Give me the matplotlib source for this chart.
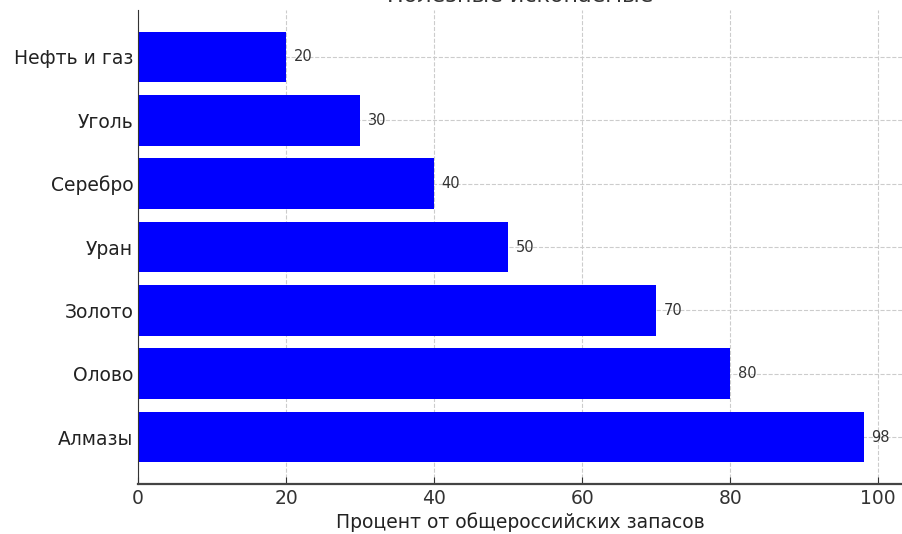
import numpy as np
import matplotlib.pyplot as plt

minerals = ['Алмазы', 'Олово', 'Золото', 'Уран', 'Серебро', 'Уголь', 'Нефть и газ']
shares = [98, 80, 70, 50, 40, 30, 20]

fig = plt.figure(figsize=(9.02, 5.34), dpi=100)
ax = fig.add_axes([138 / 902, 50 / 534, 764 / 902, 474 / 534])

y = np.arange(len(minerals))
ax.barh(y, shares, height=0.8, color='blue', zorder=2)

for yi, v in zip(y, shares):
    ax.text(v + 1, yi, str(v), va='center', ha='left', fontsize=10.5, color='#333333')

ax.set_yticks(y)
ax.set_yticklabels(minerals, fontsize=13.5, color='#222222')
ax.set_xlim(0, 103.2)
ax.set_ylim(-0.74, len(minerals) - 0.26)
ax.set_xticks([0, 20, 40, 60, 80, 100])
ax.tick_params(axis='x', labelsize=13.5, colors='#333333', direction='in', length=5)
ax.tick_params(axis='y', direction='in', length=4, colors='#222222')
ax.set_xlabel('Процент от общероссийских запасов', fontsize=13.5, color='#222222',
              labelpad=3)
# title sits mostly above the canvas, as in the original
ax.set_title('Полезные ископаемые', fontsize=16, color='#333333', pad=5.5)

ax.grid(True, linestyle='--', color='#cccccc', linewidth=0.8, zorder=0)
ax.set_axisbelow(True)
for s in ['top', 'right']:
    ax.spines[s].set_visible(False)
ax.spines['bottom'].set_linewidth(1.6)
ax.spines['bottom'].set_color('#444444')
ax.spines['left'].set_color('#333333')

fig.savefig('out.png', dpi=100)
